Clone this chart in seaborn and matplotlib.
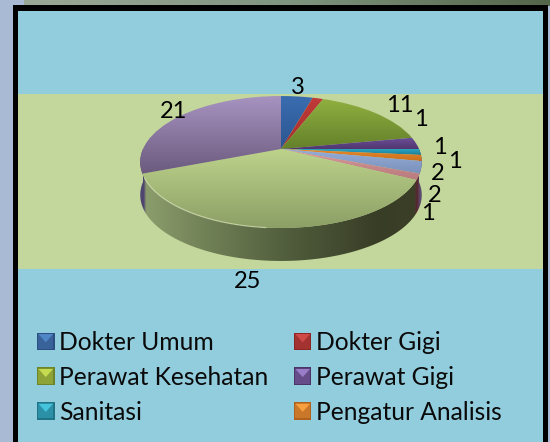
import numpy as np
import seaborn as sns
import matplotlib.pyplot as plt
import matplotlib.transforms as mtransforms
from matplotlib.colors import LinearSegmentedColormap
from matplotlib.legend_handler import HandlerBase
from matplotlib.patches import Patch, Polygon, Rectangle

sns.set_theme(style="white")
plt.rcParams['font.family'] = ['Lato', 'DejaVu Sans']

categories = ['Dokter Umum', 'Dokter Gigi', 'Perawat Kesehatan', 'Perawat Gigi', 'Sanitasi',
              'Pengatur Analisis', 'Lainnya A', 'Lainnya B', 'Lainnya C', 'Lainnya D']
values = [3, 1, 11, 2, 1, 1, 2, 1, 25, 21]
legend_names = categories[:6]

# lighter top / darker bottom of every slice
top_colors = ['#3a6db0', '#c03a38', '#8fb040', '#6d4f9a', '#2aa5c2', '#ee8a2c',
              '#94acd8', '#d99a9c', '#bdd38b', '#a793c0']
low_colors = ['#2c5590', '#a52e2c', '#64802a', '#50376f', '#1d7c92', '#c8701c',
              '#7a92ba', '#b87a7c', '#8c9f66', '#6b5a7e']
legend_tops = ['#4f86c6', '#d04a48', '#c6dc50', '#9a7cc8', '#45c4de', '#f8a040']
legend_lows = ['#2b4f80', '#8a2624', '#6e8428', '#4a3468', '#1f7488', '#b0621c']

# labels were dragged around by hand in the original, so they sit at fixed pixels
label_text = ['3', '11', '1', '1', '1', '2', '2', '1', '25', '21']
label_xy = [(298, 88), (400, 106), (421, 119), (440, 148), (455, 162),
            (438, 173), (435, 195), (428, 214), (248, 282), (174, 112)]

W, H = 550, 442
CX, CY, RX, RK, Q = 281, 149, 138, 63.4, 0.197
DEPTH = 33


class Tilt(mtransforms.Transform):
    # unit circle -> tilted disc in pixel units, near side bigger
    input_dims = output_dims = 2

    def transform_non_affine(self, xy):
        xy = np.asarray(xy, dtype=float)
        w = 1 + Q * xy[:, 1]
        return np.column_stack([CX + RX * xy[:, 0] / w, CY - RK * xy[:, 1] / w])


def vgrad(ax, c1, c2, y0, y1, zorder=2):
    cmap = LinearSegmentedColormap.from_list('g', [c1, c2])
    return ax.imshow(np.linspace(0, 1, 256)[:, None], cmap=cmap, aspect='auto', zorder=zorder,
                     extent=(0, W, y1, y0), interpolation='bilinear')


fig = plt.figure(figsize=(W / 100, H / 100), dpi=100)
ax = fig.add_axes([0, 0, 1, 1])
tilt = Tilt() + ax.transData

wedges, _ = ax.pie(values, startangle=90, counterclock=False, radius=1,
                   wedgeprops={'transform': tilt, 'linewidth': 0, 'alpha': 0})

ax.set_xlim(0, W)
ax.set_ylim(H, 0)
ax.axis('off')

# background and frame
ax.add_patch(Rectangle((0, 0), W, H, color='#a9bad4', lw=0, zorder=0))
top_strip = LinearSegmentedColormap.from_list('s', ['#9aa996', '#80957f', '#53664a'])
ax.imshow(np.linspace(0, 1, 256)[None, :], cmap=top_strip, aspect='auto', zorder=0.1,
          extent=(24, W, 6, 0))
ax.add_patch(Rectangle((12.5, 5), 535.5, H, color='black', lw=0, zorder=0.2))
ax.add_patch(Rectangle((17.5, 11), 525.5, H, color='#92cddd', lw=0, zorder=0.3))
ax.add_patch(Rectangle((17.5, 94), 525.5, 175, color='#c3d69b', lw=0, zorder=0.4))

# side wall: colour only depends on x
t = np.radians(np.linspace(180, 360, 200))
front = Tilt().transform_non_affine(np.column_stack([np.cos(t), np.sin(t)]))
wall = np.vstack([front, (front + [0, DEPTH])[::-1]])
wall_cmap = LinearSegmentedColormap.from_list('w', [
    (0.0, '#4e4570'), (0.012, '#4e4570'), (0.02, '#8b9c6c'), (0.25, '#6f7f55'),
    (0.55, '#4e5a3a'), (0.85, '#383d26'), (0.975, '#3c3f28'), (0.985, '#5a2430'),
    (0.995, '#5a4d6d'), (1.0, '#5a4d6d')])
x0, x1 = wall[:, 0].min(), wall[:, 0].max()
im = ax.imshow(np.linspace(0, 1, 512)[None, :], cmap=wall_cmap, aspect='auto', zorder=2,
               extent=(x0, x1, wall[:, 1].max(), wall[:, 1].min()))
im.set_clip_path(Polygon(wall, closed=True, transform=ax.transData))

# top faces, gradient runs over each slice's own height
for w, c1, c2 in zip(wedges, top_colors, low_colors):
    box = w.get_transform().transform_path(w.get_path()).get_extents()
    im = vgrad(ax, c1, c2, H - box.y1, H - box.y0, zorder=3)
    im.set_clip_path(w)

# pale rim on the front edge of the big slice
t = np.radians(np.linspace(205, 265, 60))
rim = Tilt().transform_non_affine(np.column_stack([np.cos(t), np.sin(t)]))
ax.plot(rim[:, 0], rim[:, 1], color='#dfe9c0', lw=0.9, alpha=0.6, zorder=4)

for s, (x, y) in zip(label_text, label_xy):
    ax.text(x, y, s, fontsize=17, color='black', ha='center', va='center', zorder=6)


class BevelHandler(HandlerBase):
    def create_artists(self, legend, orig_handle, xd, yd, width, height, fontsize, trans):
        c1, c2 = orig_handle.get_facecolor(), orig_handle.get_edgecolor()
        s = height
        x = xd * -1
        y = yd * -1 + (height - s) / 2
        mid = tuple(c1[i] * 0.35 + c2[i] * 0.65 for i in range(3))
        edge = Rectangle((x, y), s, s, facecolor=c2, lw=0, transform=trans)
        body = Rectangle((x + 1, y + 1), s - 2, s - 2, facecolor=mid, lw=0, transform=trans)
        inner = Polygon([(x + 1, y + s - 1), (x + s - 1, y + s - 1), (x + s / 2, y + s * 0.45)],
                        facecolor=c1, lw=0, transform=trans)
        return [edge, body, inner]


handles = [Patch(facecolor=a, edgecolor=b) for a, b in zip(legend_tops, legend_lows)]
# row-wise order in two columns
order = [0, 2, 4, 1, 3, 5]
leg = ax.legend([handles[i] for i in order], [legend_names[i] for i in order], ncol=2,
                frameon=False, fontsize=17.7, loc='upper left', bbox_to_anchor=(37 / W, 1 - 331 / H),
                borderpad=0, borderaxespad=0, handlelength=0.68, handleheight=0.72,
                handletextpad=0.2, labelspacing=0.48, columnspacing=1.06,
                handler_map={Patch: BevelHandler()})
leg.set_zorder(6)
for txt in leg.get_texts():
    txt.set_color('#0a0a0a')

plt.savefig('out.png', dpi=100)
